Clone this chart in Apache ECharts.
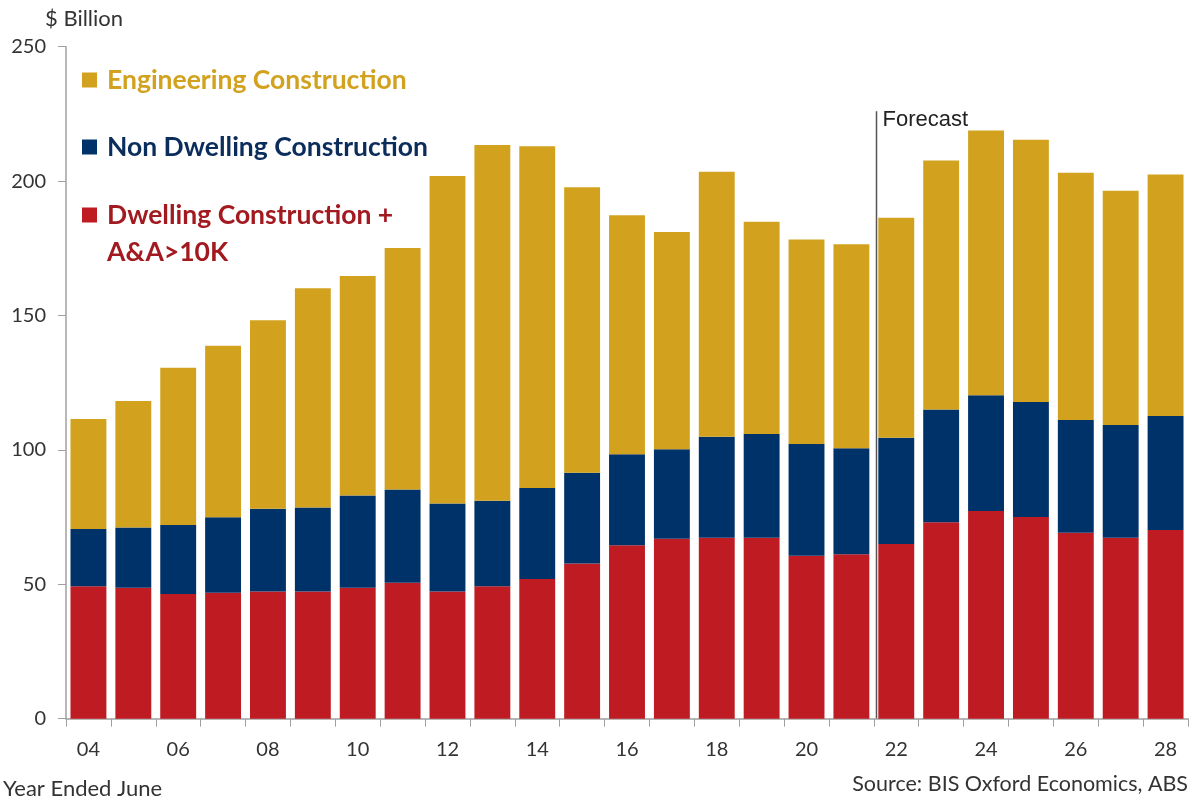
<!DOCTYPE html>
<html>
<head>
<meta charset="utf-8">
<script src="https://cdn.jsdelivr.net/npm/echarts@6/dist/echarts.min.js"></script>
<style>html,body{margin:0;padding:0;background:#fff}#c{width:1198px;height:800px}</style>
</head>
<body>
<div id="c"></div>
<script>
const categories = ['04','05','06','07','08','09','10','11','12','13','14','15','16','17','18','19','20','21','22','23','24','25','26','27','28'];
const dwelling = [49.3,48.7,46.4,46.9,47.3,47.3,48.7,50.6,47.3,49.3,52.0,57.7,64.5,66.9,67.3,67.3,60.6,61.2,65.0,73.1,77.3,75.0,69.2,67.3,70.2];
const nonDwelling = [21.3,22.4,25.7,28.0,30.8,31.3,34.3,34.7,32.8,31.8,33.8,33.8,33.9,33.3,37.6,38.6,41.6,39.4,39.5,41.9,43.0,42.8,41.9,42.0,42.4];
const engineering = [40.9,47.1,58.5,63.8,70.1,81.5,81.7,89.8,121.8,132.3,127.2,106.2,88.9,80.9,98.6,79.0,76.1,75.9,81.9,92.7,98.5,97.6,92.0,87.1,89.9];
const yTicks = [0,50,100,150,200,250];
const forecastStart = '22';
const lastActual = '21';

const COL_ENG = '#D2A21F', COL_NON = '#00326A', COL_DW = '#BE1B23';
const FONT = 'Lato, "Open Sans", sans-serif';

const chart = echarts.init(document.getElementById('c'), null, {renderer:'canvas'});
const option = {
  animation: false,
  backgroundColor: '#fff',
  grid: {left: 66, right: 10, top: 46.7, bottom: 81.3, containLabel: false},
  xAxis: {
    type: 'category', data: categories, boundaryGap: true,
    axisLine: {lineStyle: {color: '#A0A0A0', width: 1.5}},
    axisTick: {show: true, interval: 0, length: 8, lineStyle: {color: '#A0A0A0'}},
    axisLabel: {interval: 1, margin: 21, fontSize: 20, color: '#333', fontFamily: FONT}
  },
  yAxis: {
    type: 'value', min: yTicks[0], max: yTicks[yTicks.length-1], interval: 50,
    axisLine: {show: true, lineStyle: {color: '#A0A0A0', width: 1.5}},
    axisTick: {show: true, length: 8, lineStyle: {color: '#A0A0A0'}},
    splitLine: {show: false},
    axisLabel: {margin: 20, fontSize: 20, color: '#333', fontFamily: FONT}
  },
  series: [
    {name: 'Dwelling Construction + A&A>10K', type: 'bar', stack: 'total', data: dwelling, barCategoryGap: '20%', itemStyle: {color: COL_DW}},
    {name: 'Non Dwelling Construction', type: 'bar', stack: 'total', data: nonDwelling, itemStyle: {color: COL_NON}},
    {name: 'Engineering Construction', type: 'bar', stack: 'total', data: engineering, itemStyle: {color: COL_ENG}}
  ]
};
chart.setOption(option);

const xa = chart.convertToPixel({xAxisIndex: 0}, lastActual);
const xb = chart.convertToPixel({xAxisIndex: 0}, forecastStart);
const xf = Math.round((xa + xb) / 2) + 2.5;
const yTop = chart.convertToPixel({yAxisIndex: 0}, 226);
const yBot = chart.convertToPixel({yAxisIndex: 0}, 0);

const legendItems = [
  {text: 'Engineering Construction', sq: COL_ENG, tc: '#D2A21F', y: 80},
  {text: 'Non Dwelling Construction', sq: COL_NON, tc: '#0B2D5C', y: 147},
  {text: 'Dwelling Construction +\nA&A>10K', sq: COL_DW, tc: '#A21A1F', y: 215}
];
const graphics = [];
legendItems.forEach(it => {
  graphics.push({type: 'rect', shape: {x: 82, y: it.y - 7.5, width: 15, height: 15}, style: {fill: it.sq}});
  graphics.push({type: 'text', x: 107, y: it.y - 18.5, style: {text: it.text, fill: it.tc, font: 'bold 26.5px ' + FONT, lineHeight: 37, textVerticalAlign: 'top'}});
});
graphics.push({type: 'line', shape: {x1: xf, y1: yTop, x2: xf, y2: yBot}, style: {stroke: '#555', lineWidth: 1.5}});
graphics.push({type: 'text', x: xf + 6, y: 120, style: {text: 'Forecast', fill: '#222', font: '22px "Liberation Sans", Arial, sans-serif', textVerticalAlign: 'middle'}});
graphics.push({type: 'text', x: 45, y: 19, style: {text: '$ Billion', fill: '#333', font: '22px ' + FONT, textVerticalAlign: 'middle'}});
graphics.push({type: 'text', x: 3, y: 789, style: {text: 'Year Ended June', fill: '#333', font: '22px ' + FONT, textVerticalAlign: 'middle'}});
graphics.push({type: 'text', x: 1188, y: 784, style: {text: 'Source: BIS Oxford Economics, ABS', fill: '#333', font: '21.5px ' + FONT, textAlign: 'right', textVerticalAlign: 'middle'}});
chart.setOption({graphic: graphics});
</script>
</body>
</html>
